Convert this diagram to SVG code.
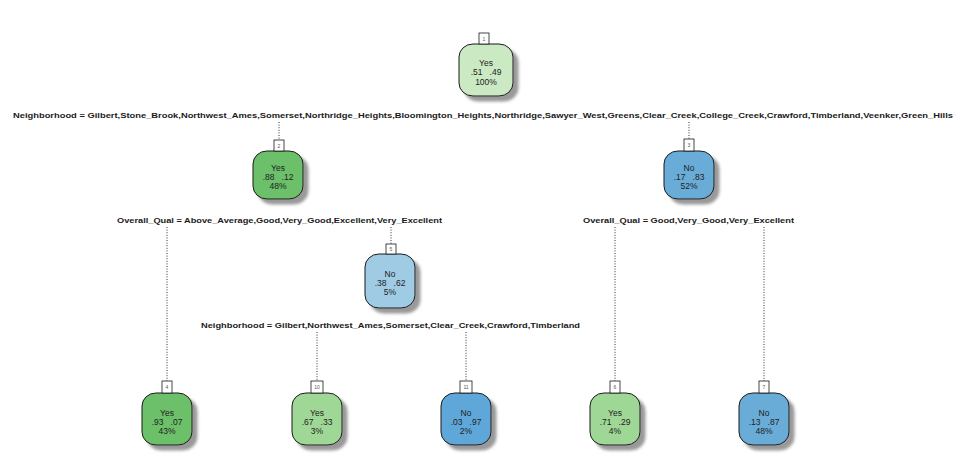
<svg xmlns="http://www.w3.org/2000/svg" width="958" height="468" viewBox="0 0 958 468">
<defs>
<filter id="sh" x="-30%" y="-30%" width="170%" height="170%">
<feDropShadow dx="5" dy="5" stdDeviation="1.8" flood-color="#777" flood-opacity="0.75"/>
</filter>
</defs>
<style>
.bg{fill:#ffffff}
.nd{stroke:#1a1a1a;stroke-width:1;filter:url(#sh)}
.lb{fill:#ffffff;stroke:#1a1a1a;stroke-width:0.8}
.num{font-family:"Liberation Sans",Arial,sans-serif;font-size:5px;fill:#555;text-anchor:middle}
.t{font-family:"Liberation Sans",Arial,sans-serif;font-size:8.5px;fill:#222;text-anchor:middle;white-space:pre}
.sp{font-family:"Liberation Sans",Arial,sans-serif;font-size:8px;font-weight:bold;fill:#1a1a1a;text-anchor:start}
.cn{stroke:#333;stroke-width:1;stroke-dasharray:1,1.6;fill:none}
.g1{fill:#cbe9c3}.g2{fill:#6cc06b}.g3{fill:#9fd896}
.b1{fill:#6aacd8}.b2{fill:#a0cbe5}.b3{fill:#60a7d9}
</style>
<rect class="bg" x="0" y="0" width="958" height="468"/>

<g id="connectors">
<line class="cn" x1="279" y1="122" x2="279" y2="140"/>
<line class="cn" x1="689" y1="122" x2="689" y2="139"/>
<line class="cn" x1="167" y1="227" x2="167" y2="381"/>
<line class="cn" x1="391" y1="227" x2="391" y2="244"/>
<line class="cn" x1="615" y1="227" x2="615" y2="381"/>
<line class="cn" x1="764" y1="227" x2="764" y2="381"/>
<line class="cn" x1="317" y1="332" x2="317" y2="381"/>
<line class="cn" x1="466" y1="332" x2="466" y2="381"/>
</g>

<g id="splits">
<text class="sp" x="13" y="118" textLength="940" lengthAdjust="spacingAndGlyphs">Neighborhood = Gilbert,Stone_Brook,Northwest_Ames,Somerset,Northridge_Heights,Bloomington_Heights,Northridge,Sawyer_West,Greens,Clear_Creek,College_Creek,Crawford,Timberland,Veenker,Green_Hills</text>
<text class="sp" x="117" y="223" textLength="325" lengthAdjust="spacingAndGlyphs">Overall_Qual = Above_Average,Good,Very_Good,Excellent,Very_Excellent</text>
<text class="sp" x="583" y="223" textLength="211" lengthAdjust="spacingAndGlyphs">Overall_Qual = Good,Very_Good,Very_Excellent</text>
<text class="sp" x="201" y="328" textLength="379" lengthAdjust="spacingAndGlyphs">Neighborhood = Gilbert,Northwest_Ames,Somerset,Clear_Creek,Crawford,Timberland</text>
</g>

<g id="node1">
<rect class="nd g1" x="459" y="44" width="54" height="52" rx="14" ry="13"/>
<rect class="lb" x="479" y="33" width="10" height="11"/>
<text class="num" x="484" y="40.5">1</text>
<text class="t" x="486" y="66">Yes</text>
<text class="t" x="486" y="75">.51   .49</text>
<text class="t" x="486" y="85">100%</text>
</g>

<g id="node2">
<rect class="nd g2" x="253" y="151" width="50" height="48" rx="14" ry="13"/>
<rect class="lb" x="274" y="140" width="10" height="11"/>
<text class="num" x="279" y="147.5">2</text>
<text class="t" x="278" y="171">Yes</text>
<text class="t" x="278" y="180">.88   .12</text>
<text class="t" x="278" y="189">48%</text>
</g>

<g id="node3">
<rect class="nd b1" x="664" y="151" width="50" height="48" rx="14" ry="13"/>
<rect class="lb" x="684" y="139" width="10" height="12"/>
<text class="num" x="689" y="147">3</text>
<text class="t" x="689" y="171">No</text>
<text class="t" x="689" y="180">.17   .83</text>
<text class="t" x="689" y="189">52%</text>
</g>

<g id="node5">
<rect class="nd b2" x="365" y="254" width="50" height="54" rx="14" ry="13"/>
<rect class="lb" x="386" y="244" width="10" height="10"/>
<text class="num" x="391" y="251">5</text>
<text class="t" x="390" y="277">No</text>
<text class="t" x="390" y="286">.38   .62</text>
<text class="t" x="390" y="295">5%</text>
</g>

<g id="node4">
<rect class="nd g2" x="142" y="393" width="50" height="52" rx="14" ry="13"/>
<rect class="lb" x="162" y="381" width="10" height="12"/>
<text class="num" x="167" y="389">4</text>
<text class="t" x="167" y="416">Yes</text>
<text class="t" x="167" y="425">.93   .07</text>
<text class="t" x="167" y="434">43%</text>
</g>

<g id="node10">
<rect class="nd g3" x="292" y="393" width="50" height="52" rx="14" ry="13"/>
<rect class="lb" x="311" y="381" width="12" height="12"/>
<text class="num" x="317" y="389">10</text>
<text class="t" x="317" y="416">Yes</text>
<text class="t" x="317" y="425">.67   .33</text>
<text class="t" x="317" y="434">3%</text>
</g>

<g id="node11">
<rect class="nd b3" x="441" y="393" width="50" height="52" rx="14" ry="13"/>
<rect class="lb" x="460" y="381" width="12" height="12"/>
<text class="num" x="466" y="389">11</text>
<text class="t" x="466" y="416">No</text>
<text class="t" x="466" y="425">.03   .97</text>
<text class="t" x="466" y="434">2%</text>
</g>

<g id="node6">
<rect class="nd g3" x="590" y="393" width="50" height="52" rx="14" ry="13"/>
<rect class="lb" x="610" y="381" width="10" height="12"/>
<text class="num" x="615" y="389">6</text>
<text class="t" x="615" y="416">Yes</text>
<text class="t" x="615" y="425">.71   .29</text>
<text class="t" x="615" y="434">4%</text>
</g>

<g id="node7">
<rect class="nd b1" x="739" y="393" width="50" height="52" rx="14" ry="13"/>
<rect class="lb" x="759" y="381" width="10" height="12"/>
<text class="num" x="764" y="389">7</text>
<text class="t" x="764" y="416">No</text>
<text class="t" x="764" y="425">.13   .87</text>
<text class="t" x="764" y="434">48%</text>
</g>
</svg>
